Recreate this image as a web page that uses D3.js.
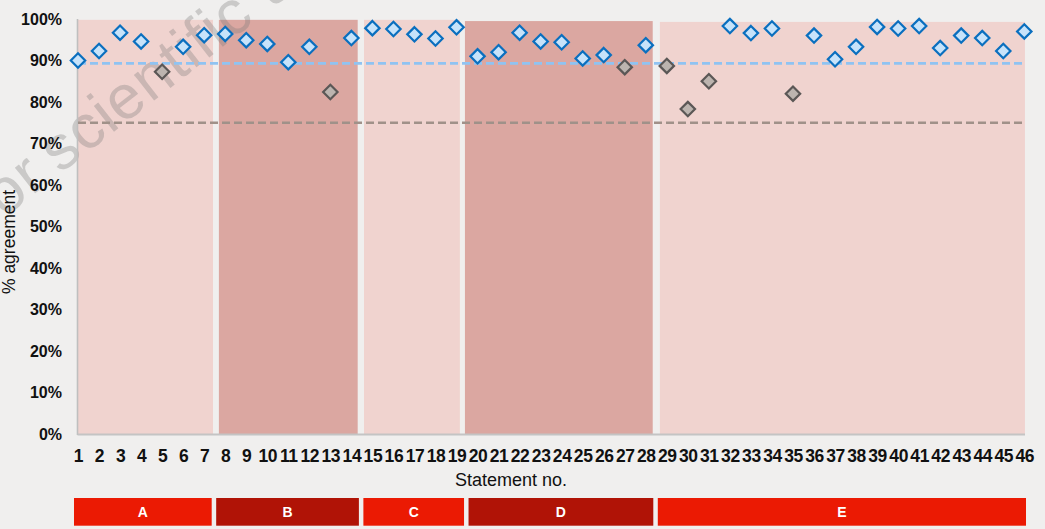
<!DOCTYPE html>
<html>
<head>
<meta charset="utf-8">
<script src="https://cdn.jsdelivr.net/npm/d3@7"></script>
<style>
  html, body { margin: 0; padding: 0; background: #F0EFEE; }
  svg { display: block; }
</style>
</head>
<body>
<svg id="chart" width="1045" height="529"></svg>
<script>
// ---- data ----
const statements = [1,2,3,4,5,6,7,8,9,10,11,12,13,14,15,16,17,18,19,20,21,22,23,24,25,26,27,28,29,30,31,32,33,34,35,36,37,38,39,40,41,42,43,44,45,46];
const agreement = [90.0,92.3,96.7,94.6,87.3,93.3,96.1,96.4,94.9,94.0,89.6,93.3,82.4,95.4,97.8,97.6,96.3,95.3,98.0,91.0,92.0,96.7,94.6,94.4,90.5,91.3,88.4,93.7,88.7,78.3,85.0,98.3,96.6,97.7,82.0,96.0,90.3,93.3,98.1,97.7,98.3,93.0,96.0,95.4,92.3,97.0];
const averageLine = 89.3;
const thresholdLine = 75;
const groupNames = ["A","B","C","D","E"];
const groupFirst = [1,8,15,20,29];
const groupLast = [7,14,19,28,46];
const bandFrom = [1, 7.70, 14.60, 19.40, 28.67];
const bandTo = [7.42, 14.30, 19.16, 28.33, 46.03];
const bandTop = [99.8, 99.8, 99.8, 99.5, 99.3];
const yTicks = [0,10,20,30,40,50,60,70,80,90,100];
const watermarkLead = "Not for";
const watermarkMain = "scientific use";

// ---- layout ----
const svg = d3.select("#chart");
const plotLeft = 77.5, plotRight = 1025, plotTop = 19, plotBottom = 434;
const x = d3.scaleLinear().domain([1, 46]).range([78, 1024.3]);
const y = d3.scaleLinear().domain([0, 100]).range([plotBottom, plotTop]);

const lightBand = "#F0D3CF", darkBand = "#DBA7A1";
const lightBar = "#EB1A03", darkBar = "#B01306";
const font = "Liberation Sans, Arial, sans-serif";

// background bands
svg.append("g").selectAll("rect").data(groupNames).join("rect")
  .attr("x", (d,i) => Math.max(plotLeft, x(bandFrom[i])))
  .attr("y", (d,i) => y(bandTop[i]))
  .attr("width", (d,i) => Math.min(plotRight, x(bandTo[i])) - Math.max(plotLeft, x(bandFrom[i])))
  .attr("height", (d,i) => plotBottom - y(bandTop[i]))
  .attr("fill", (d,i) => i % 2 ? darkBand : lightBand);

// watermark
const wm = svg.append("g").attr("transform", "translate(60,174) rotate(-38)")
  .attr("font-family", font).attr("font-size", 62).attr("letter-spacing", 1.2)
  .attr("fill", "#7a7a7a").attr("fill-opacity", 0.32);
wm.append("text").attr("x", -14).attr("text-anchor", "end").text(watermarkLead);
wm.append("text").attr("x", 0).attr("text-anchor", "start").text(watermarkMain);

// axis lines
svg.append("line").attr("x1", plotLeft).attr("x2", plotLeft).attr("y1", plotTop).attr("y2", plotBottom + 1)
  .attr("stroke", "#BFBFBF").attr("stroke-width", 1.6);
svg.append("line").attr("x1", plotLeft).attr("x2", plotRight).attr("y1", plotBottom + 0.5).attr("y2", plotBottom + 0.5)
  .attr("stroke", "#C4C4C4").attr("stroke-width", 2);

// reference lines
svg.append("line").attr("x1", x(1)).attr("x2", x(46))
  .attr("y1", y(thresholdLine)).attr("y2", y(thresholdLine))
  .attr("stroke", "#A09189").attr("stroke-width", 2.4).attr("stroke-dasharray", "8,4");
svg.append("line").attr("x1", x(1)).attr("x2", x(46))
  .attr("y1", y(averageLine)).attr("y2", y(averageLine))
  .attr("stroke", "#8FC3F2").attr("stroke-width", 2.6).attr("stroke-dasharray", "8,4");

// y axis
const yAxis = svg.append("g").attr("transform", `translate(${plotLeft},0)`)
  .call(d3.axisLeft(y).tickValues(yTicks).tickFormat(d => d + "%").tickSize(0).tickPadding(15.5));
yAxis.select(".domain").remove();
yAxis.selectAll("text").attr("font-family", font)
  .attr("font-size", 16).attr("font-weight", "bold").attr("fill", "#111");

// x axis
const xAxis = svg.append("g").attr("transform", `translate(0,${plotBottom})`)
  .call(d3.axisBottom(x).tickValues(statements).tickFormat(d3.format("d")).tickSize(0).tickPadding(15.5));
xAxis.select(".domain").remove();
xAxis.selectAll("text").attr("font-family", font)
  .attr("font-size", 17.5).attr("font-weight", "bold").attr("fill", "#111").attr("letter-spacing", -0.4);

// axis titles
svg.append("text").attr("x", 511).attr("y", 486).attr("text-anchor", "middle")
  .attr("font-family", font).attr("font-size", 18).attr("fill", "#111")
  .text("Statement no.");
svg.append("text").attr("transform", "translate(15,242) rotate(-90)").attr("text-anchor", "middle")
  .attr("font-family", font).attr("font-size", 17.5).attr("fill", "#111")
  .text("% agreement");

// points
const r = 7.2;
const diamond = `M0,${-r}L${r},0L0,${r}L${-r},0Z`;
svg.append("g").selectAll("path").data(statements).join("path")
  .attr("d", diamond)
  .attr("transform", (d,i) => `translate(${x(d)},${y(agreement[i])})`)
  .attr("fill", (d,i) => agreement[i] < averageLine ? "#BCB4AF" : "#C7E3FA")
  .attr("stroke", (d,i) => agreement[i] < averageLine ? "#5B5756" : "#0A6FBF")
  .attr("stroke-width", 2.2);

// group bars
const barY = 498, barH = 27.7;
const bars = svg.append("g");
const bx0 = i => Math.max(74, x(groupFirst[i] - 0.5) + 1.5);
const bx1 = i => Math.min(1026, x(groupLast[i] + 0.5) - 3);
bars.selectAll("rect").data(groupNames).join("rect")
  .attr("x", (d,i) => bx0(i)).attr("y", barY)
  .attr("width", (d,i) => bx1(i) - bx0(i)).attr("height", barH)
  .attr("fill", (d,i) => i % 2 ? darkBar : lightBar);
bars.selectAll("text").data(groupNames).join("text")
  .attr("x", (d,i) => (bx0(i) + bx1(i)) / 2).attr("y", barY + barH / 2 + 5)
  .attr("text-anchor", "middle")
  .attr("font-family", font).attr("font-size", 14).attr("font-weight", "bold")
  .attr("fill", "#fff")
  .text(d => d);
</script>
</body>
</html>
